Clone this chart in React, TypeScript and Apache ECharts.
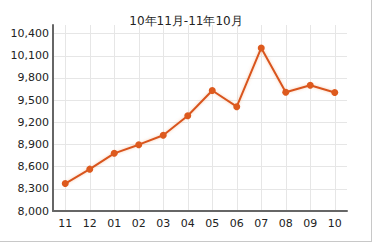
import React, { useEffect, useRef } from "react";
import * as echarts from "echarts";

const titleText = "10年11月-11年10月";
const months = ["11", "12", "01", "02", "03", "04", "05", "06", "07", "08", "09", "10"];
const prices = [8371, 8566, 8780, 8897, 9025, 9289, 9630, 9411, 10206, 9606, 9702, 9602];
const yMin = 8000;
const yMax = 10516;
const yStep = 300;

export default function App() {
  const ref = useRef<HTMLDivElement>(null);
  useEffect(() => {
    document.body.style.margin = "0";
    const chart = echarts.init(ref.current!, null, { renderer: "svg" });
    const font = "DejaVu Sans";
    chart.setOption({
      animation: false,
      backgroundColor: "#ffffff",
      title: {
        text: titleText,
        left: "center",
        top: 10,
        textStyle: { fontFamily: font, fontSize: 12, fontWeight: "normal", color: "#222" },
      },
      grid: { left: 53, right: 25, top: 25, bottom: 31 },
      xAxis: {
        type: "category",
        data: months,
        boundaryGap: true,
        axisLine: { lineStyle: { color: "#666", width: 2 } },
        axisTick: { alignWithLabel: true, length: 4, lineStyle: { color: "#666", width: 2 } },
        axisLabel: { fontFamily: font, fontSize: 11, color: "#222", margin: 7 },
        splitLine: { show: true, alignWithLabel: true, lineStyle: { color: "#e6e6e6", width: 1 } },
      },
      yAxis: {
        type: "value",
        min: yMin,
        max: yMax,
        interval: yStep,
        axisLine: { show: true, lineStyle: { color: "#666", width: 2 } },
        axisTick: { show: false },
        axisLabel: {
          fontFamily: font,
          fontSize: 11,
          color: "#222",
          margin: 4,
          showMaxLabel: false,
          formatter: (v: number) => v.toLocaleString("en-US"),
        },
        splitLine: { show: true, showMaxLine: false, lineStyle: { color: "#e6e6e6", width: 1 } },
      },
      series: [
        {
          type: "line",
          data: prices,
          symbol: "circle",
          symbolSize: 7,
          lineStyle: { color: "#d9541e", width: 2, shadowColor: "rgba(240,150,90,0.5)", shadowBlur: 3 },
          itemStyle: { color: "#dd5a1e" },
        },
      ],
      graphic: [
        { type: "line", shape: { x1: 0, y1: 241.5, x2: 372, y2: 241.5 }, style: { stroke: "#c8c8c8", lineWidth: 1 } },
        { type: "line", shape: { x1: 371.5, y1: 0, x2: 371.5, y2: 242 }, style: { stroke: "#c8c8c8", lineWidth: 1 } },
      ],
    });
    return () => chart.dispose();
  }, []);
  return <div ref={ref} style={{ width: 372, height: 242 }} />;
}
